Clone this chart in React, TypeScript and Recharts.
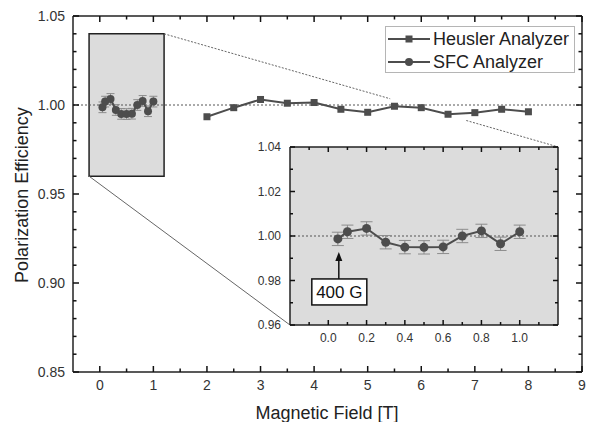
import {
  ComposedChart,
  Line,
  XAxis,
  YAxis,
  ReferenceLine,
  ReferenceArea,
  ReferenceDot,
  ErrorBar,
  Legend,
} from "recharts";

const FONT = '"Liberation Sans", Arial, Helvetica, sans-serif';
const INK = "#4d4d4d";
const AXIS = "#222";
const TEXT = "#333";
const BOX_FILL = "#dcdcdc";

// Heusler analyzer, field in T
const heuslerField = [2, 2.5, 3, 3.5, 4, 4.5, 5, 5.5, 6, 6.5, 7, 7.5, 8];
const heuslerEff = [
  0.9934, 0.9985, 1.0031, 1.001, 1.0014, 0.9976, 0.9959, 0.9993, 0.9985,
  0.9948, 0.9957, 0.9976, 0.9962,
];

// SFC analyzer, low field
const sfcField = [0.05, 0.1, 0.2, 0.3, 0.4, 0.5, 0.6, 0.7, 0.8, 0.9, 1.0];
const sfcEff = [
  0.9987, 1.0019, 1.0034, 0.9972, 0.995, 0.9949, 0.9951, 1.0, 1.0023, 0.9965,
  1.0019,
];
const sfcErr = [
  0.003, 0.003, 0.003, 0.003, 0.003, 0.003, 0.003, 0.003, 0.003, 0.003, 0.003,
];

const heuslerData = heuslerField.map((field, i) => ({ field, eff: heuslerEff[i] }));
const sfcData = sfcField.map((field, i) => ({
  field,
  eff: sfcEff[i],
  err: sfcErr[i],
}));

// main axes
const mainXDomain = [-0.5, 9];
const mainYDomain = [0.85, 1.05];
const mainXMajor = [0, 1, 2, 3, 4, 5, 6, 7, 8, 9];
const mainXMinor = [0.5, 1.5, 2.5, 3.5, 4.5, 5.5, 6.5, 7.5, 8.5];
const mainYMajor = [0.85, 0.9, 0.95, 1.0, 1.05];
const mainYMinor = [
  0.86, 0.87, 0.88, 0.89, 0.91, 0.92, 0.93, 0.94, 0.96, 0.97, 0.98, 0.99, 1.01,
  1.02, 1.03, 1.04,
];

// inset axes
const insetXDomain = [-0.2, 1.2];
const insetYDomain = [0.96, 1.04];
const insetXMajor = [0, 0.2, 0.4, 0.6, 0.8, 1.0];
const insetXMinor = [-0.1, 0.1, 0.3, 0.5, 0.7, 0.9, 1.1];
const insetYMajor = [0.96, 0.98, 1.0, 1.02, 1.04];
const insetYMinor = [0.97, 0.99, 1.01, 1.03];

// zoom box + connector lines (main chart data coords)
const zoomLinks = [
  { a: { x: 1.2, y: 1.04 }, b: { x: 5.42, y: 1.0035 }, dash: "2 1.5" },
  { a: { x: 6.84, y: 0.9913 }, b: { x: 8.56, y: 0.9764 }, dash: "2 1.5" },
  { a: { x: -0.2, y: 0.96 }, b: { x: 3.55, y: 0.8764 }, dash: undefined },
];

const markerField = 0.055;
const markerTop = 0.9807;
const markerText = "400 G";

// plot boxes in page pixels (set by chart sizes/margins below)
const mainBox = { left: 73, right: 582, top: 16, bottom: 372 };
const insetBox = { left: 290, right: 558, top: 147, bottom: 325 };

const isIn = (list: number[], v: number) => list.some((m) => Math.abs(m - v) < 1e-9);

// inward frame ticks on all four sides of a plot box
function FrameTicks({ box, xDomain, yDomain, xMajor, xMinor, yMajor, yMinor, major, minor }: any) {
  const sx = (v: number) =>
    box.left + ((v - xDomain[0]) / (xDomain[1] - xDomain[0])) * (box.right - box.left);
  const sy = (v: number) =>
    box.bottom - ((v - yDomain[0]) / (yDomain[1] - yDomain[0])) * (box.bottom - box.top);
  const lines: any[] = [];
  [...xMajor, ...xMinor].forEach((v: number, i: number) => {
    const len = isIn(xMajor, v) ? major : minor;
    const x = sx(v);
    lines.push(<line key={`b${i}`} x1={x} x2={x} y1={box.bottom} y2={box.bottom - len} />);
    lines.push(<line key={`t${i}`} x1={x} x2={x} y1={box.top} y2={box.top + len} />);
  });
  [...yMajor, ...yMinor].forEach((v: number, i: number) => {
    const len = isIn(yMajor, v) ? major : minor;
    const y = sy(v);
    lines.push(<line key={`l${i}`} x1={box.left} x2={box.left + len} y1={y} y2={y} />);
    lines.push(<line key={`r${i}`} x1={box.right} x2={box.right - len} y1={y} y2={y} />);
  });
  return <g stroke="#111" strokeWidth={1.5}>{lines}</g>;
}

function makeXLabel(majors: number[], fontSize: number, fmt: (v: number) => string, gap: number) {
  return (props: any) => {
    const { x, y, payload } = props;
    if (!isIn(majors, payload.value)) return <g />;
    return (
      <text x={x} y={y + gap} textAnchor="middle" fontSize={fontSize} fill={TEXT} fontFamily={FONT}>
        {fmt(payload.value)}
      </text>
    );
  };
}

function makeYLabel(majors: number[], fontSize: number, fmt: (v: number) => string, gap: number) {
  return (props: any) => {
    const { x, y, payload } = props;
    if (!isIn(majors, payload.value)) return <g />;
    return (
      <text x={x - gap} y={y + fontSize * 0.36} textAnchor="end" fontSize={fontSize} fill={TEXT} fontFamily={FONT}>
        {fmt(payload.value)}
      </text>
    );
  };
}

const mainXLabel = makeXLabel(mainXMajor, 14, (v) => String(v), 17.5);
const mainYLabel = makeYLabel(mainYMajor, 14, (v) => v.toFixed(2), 8);
const insetXLabel = makeXLabel(insetXMajor, 12, (v) => v.toFixed(1), 16.5);
const insetYLabel = makeYLabel(insetYMajor, 12, (v) => v.toFixed(2), 9);

const SquareDot = (props: any) => {
  const { cx, cy, index } = props;
  if (cx == null || cy == null) return null;
  return (
    <rect key={index} x={cx - 3.5} y={cy - 3.5} width={7} height={7} fill={INK} />
  );
};

const LegendBox = ({ payload }: any) => (
  <div
    style={{
      width: 188,
      height: 45,
      border: "1px solid #b5b5b5",
      background: "#fff",
      fontFamily: FONT,
      fontSize: 18,
      color: "#222",
    }}>
    {(payload || []).map((p: any) => (
      <div
        key={p.value}
        style={{ display: "flex", alignItems: "center", height: 22, marginTop: 1 }}>
        <svg width={47} height={22}>
          <line x1={2} x2={44} y1={11} y2={11} stroke={INK} strokeWidth={2} />
          {p.type === "square" ? (
            <rect x={19.5} y={7.5} width={7} height={7} fill={INK} />
          ) : (
            <circle cx={23} cy={11} r={4} fill={INK} />
          )}
        </svg>
        <span style={{ lineHeight: "22px" }}>{p.value}</span>
      </div>
    ))}
  </div>
);

const AnnotationShape = (props: any) => {
  const { cx, cy } = props;
  if (cx == null || cy == null) return null;
  return (
    <g>
      <line x1={cx} x2={cx} y1={cy} y2={cy - 20} stroke="#111" strokeWidth={1.5} />
      <path d={`M${cx - 3.5},${cy - 18} L${cx},${cy - 27} L${cx + 3.5},${cy - 18} Z`} fill="#111" />
      <rect x={cx - 27} y={cy} width={55} height={26} fill="#fff" stroke="#111" strokeWidth={1.5} />
      <text
        x={cx + 0.5}
        y={cy + 19.5}
        textAnchor="middle"
        fontSize={17}
        fill="#111"
        fontFamily={FONT}>
        {markerText}
      </text>
    </g>
  );
};

const border = { stroke: AXIS, strokeWidth: 1.5 };

function frameAxes(xDomain: number[], yDomain: number[], xTicks: number[], yTicks: number[],
  xTick: any, yTick: any, xHeight: number, yWidth: number) {
  return [
    <XAxis key="xb" xAxisId="b" type="number" dataKey="field" domain={xDomain}
      ticks={xTicks} interval={0} allowDataOverflow height={xHeight} tickSize={0}
      tickMargin={0} tick={xTick} axisLine={border} tickLine={false} />,
    <YAxis key="yl" yAxisId="l" type="number" domain={yDomain} ticks={yTicks}
      interval={0} allowDataOverflow width={yWidth} tickSize={0} tickMargin={0}
      tick={yTick} axisLine={border} tickLine={false} />,
    // top and right frame lines
    <XAxis key="xt" xAxisId="t" type="number" orientation="top" mirror domain={xDomain}
      allowDataOverflow height={0.01} tick={false} axisLine={border} tickLine={false} />,
    <YAxis key="yr" yAxisId="r" type="number" orientation="right" mirror domain={yDomain}
      allowDataOverflow width={0.01} tick={false} axisLine={border} tickLine={false} />,
  ];
}

function MainChart() {
  return (
    <ComposedChart
      width={591}
      height={422}
      margin={{ top: 16, right: 9, left: 0, bottom: 0 }}
      style={{ fontFamily: FONT }}>
      {frameAxes(mainXDomain, mainYDomain, mainXMajor, mainYMajor,
        mainXLabel, mainYLabel, 50, 73)}

      <ReferenceArea
        xAxisId="b"
        yAxisId="l"
        x1={insetXDomain[0]}
        x2={insetXDomain[1]}
        y1={insetYDomain[0]}
        y2={insetYDomain[1]}
        fill={BOX_FILL}
        fillOpacity={1}
        stroke={AXIS}
        strokeWidth={1.5}
      />
      {zoomLinks.map((s, i) => (
        <ReferenceLine
          key={i}
          xAxisId="b"
          yAxisId="l"
          segment={[s.a, s.b]}
          stroke="#666"
          strokeWidth={1}
          strokeDasharray={s.dash}
        />
      ))}
      <ReferenceLine
        xAxisId="b"
        yAxisId="l"
        y={1}
        stroke="#555"
        strokeWidth={1}
        strokeDasharray="2 2"
      />

      <Line
        xAxisId="b"
        yAxisId="l"
        data={heuslerData}
        dataKey="eff"
        name="Heusler Analyzer"
        legendType="square"
        stroke={INK}
        strokeWidth={2}
        dot={SquareDot}
        activeDot={false}
        isAnimationActive={false}
      />
      <Line
        xAxisId="b"
        yAxisId="l"
        data={sfcData}
        dataKey="eff"
        name="SFC Analyzer"
        legendType="circle"
        stroke={INK}
        strokeWidth={2}
        dot={{ r: 4, fill: INK, stroke: INK, strokeWidth: 0 }}
        activeDot={false}
        isAnimationActive={false}>
        <ErrorBar dataKey="err" direction="y" width={4} stroke="#8c8c8c" strokeWidth={1} />
      </Line>

      <Legend
        layout="vertical"
        align="center"
        verticalAlign="middle"
        wrapperStyle={{ left: 385, top: 26, width: 190 }}
        content={LegendBox}
      />
    </ComposedChart>
  );
}

function InsetChart() {
  return (
    <ComposedChart
      width={330}
      height={215}
      margin={{ top: 7, right: 12, left: 0, bottom: 0 }}
      style={{ fontFamily: FONT }}>
      {frameAxes(insetXDomain, insetYDomain, insetXMajor, insetYMajor,
        insetXLabel, insetYLabel, 30, 50)}

      <ReferenceArea
        xAxisId="b"
        yAxisId="l"
        x1={insetXDomain[0]}
        x2={insetXDomain[1]}
        y1={insetYDomain[0]}
        y2={insetYDomain[1]}
        fill={BOX_FILL}
        fillOpacity={1}
        stroke="none"
      />
      <ReferenceLine
        xAxisId="b"
        yAxisId="l"
        y={1}
        stroke="#555"
        strokeWidth={1}
        strokeDasharray="2 2"
      />

      <Line
        xAxisId="b"
        yAxisId="l"
        data={sfcData}
        dataKey="eff"
        name="SFC Analyzer"
        stroke={INK}
        strokeWidth={2}
        dot={{ r: 4.5, fill: INK, stroke: INK, strokeWidth: 0 }}
        activeDot={false}
        isAnimationActive={false}>
        <ErrorBar dataKey="err" direction="y" width={6} stroke="#8c8c8c" strokeWidth={1} />
      </Line>

      <ReferenceDot
        xAxisId="b"
        yAxisId="l"
        x={markerField}
        y={markerTop}
        r={1}
        shape={AnnotationShape}
      />
    </ComposedChart>
  );
}

export default function App() {
  return (
    <div
      style={{
        position: "absolute",
        left: 0,
        top: 0,
        width: 591,
        height: 422,
        background: "#fff",
        fontFamily: FONT,
      }}>
      <MainChart />
      <div style={{ position: "absolute", left: 240, top: 140 }}>
        <InsetChart />
      </div>
      <svg
        width={591}
        height={422}
        style={{ position: "absolute", left: 0, top: 0, pointerEvents: "none" }}>
        <FrameTicks box={mainBox} xDomain={mainXDomain} yDomain={mainYDomain}
          xMajor={mainXMajor} xMinor={mainXMinor} yMajor={mainYMajor} yMinor={mainYMinor}
          major={6} minor={3.5} />
        <FrameTicks box={insetBox} xDomain={insetXDomain} yDomain={insetYDomain}
          xMajor={insetXMajor} xMinor={insetXMinor} yMajor={insetYMajor} yMinor={insetYMinor}
          major={5} minor={3} />
      </svg>
      <div
        style={{
          position: "absolute",
          left: 22 - 150,
          top: 195 - 11,
          width: 300,
          height: 22,
          lineHeight: "22px",
          textAlign: "center",
          fontSize: 18,
          color: "#222",
          transform: "rotate(-90deg)",
        }}>
        Polarization Efficiency
      </div>
      <div
        style={{
          position: "absolute",
          left: 327 - 150,
          top: 402,
          width: 300,
          height: 22,
          lineHeight: "22px",
          textAlign: "center",
          fontSize: 18,
          color: "#222",
        }}>
        Magnetic Field [T]
      </div>
    </div>
  );
}
